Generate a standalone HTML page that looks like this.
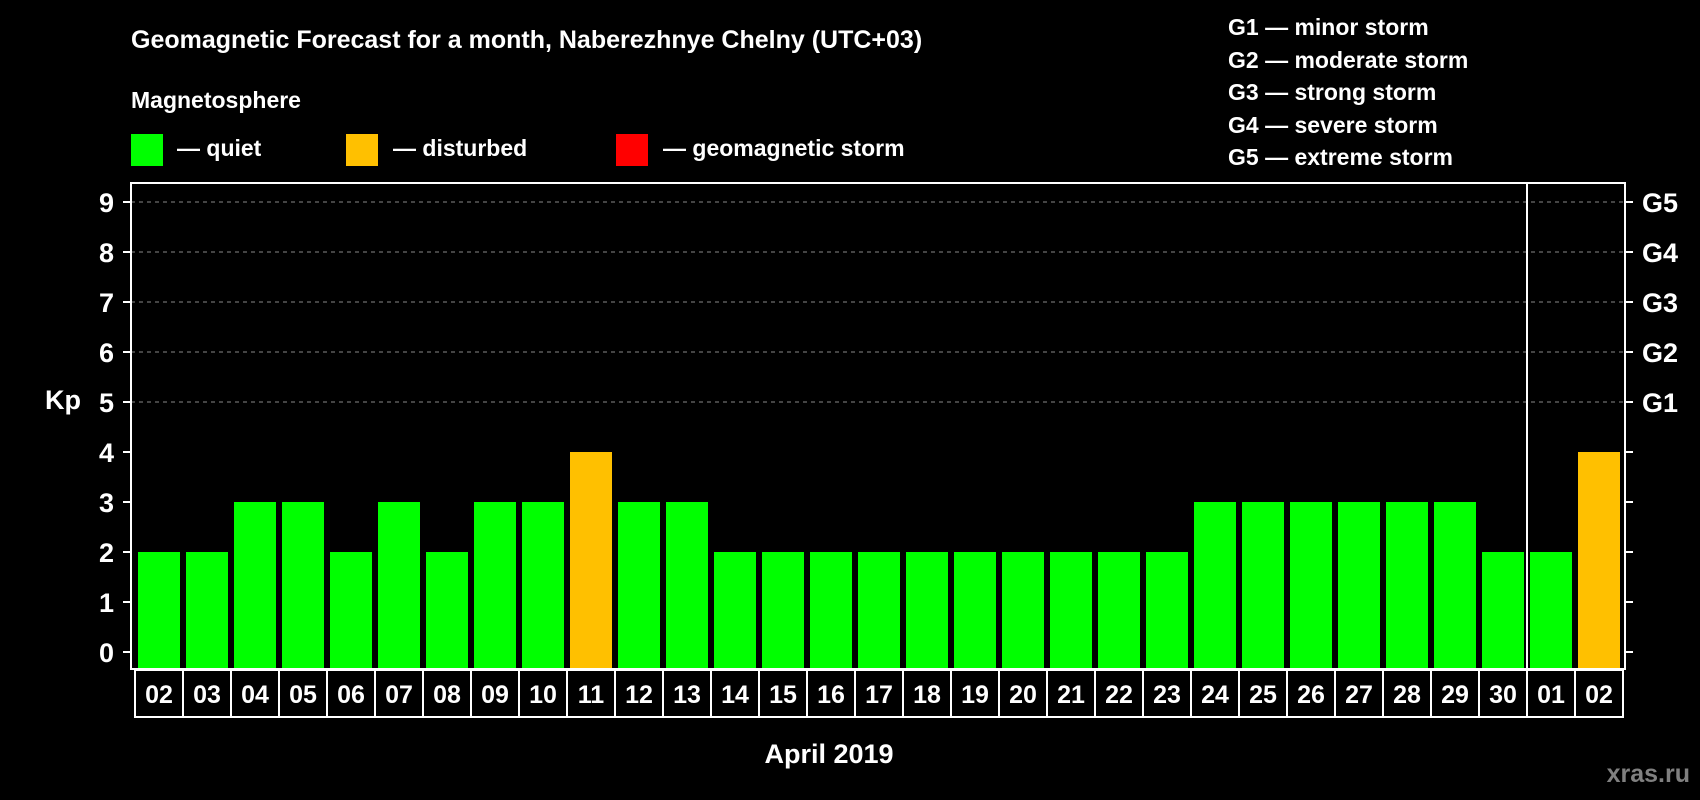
<!DOCTYPE html>
<html><head><meta charset="utf-8"><style>
html,body{margin:0;padding:0;background:#000;}
svg{display:block;font-family:"Liberation Sans",Arial,sans-serif;font-weight:bold;}
</style></head><body>
<svg id="chart" width="1700" height="800" viewBox="0 0 1700 800">
<text x="131" y="48" fill="#fff" font-size="25">Geomagnetic Forecast for a month, Naberezhnye Chelny (UTC+03)</text>
<text x="131" y="108" fill="#fff" font-size="23">Magnetosphere</text>
<rect x="131" y="134" width="32" height="32" fill="#00ff00"/>
<text x="177" y="156" fill="#fff" font-size="23">— quiet</text>
<rect x="346" y="134" width="32" height="32" fill="#ffc000"/>
<text x="393" y="156" fill="#fff" font-size="23">— disturbed</text>
<rect x="616" y="134" width="32" height="32" fill="#ff0000"/>
<text x="663" y="156" fill="#fff" font-size="23">— geomagnetic storm</text>
<g fill="#fff" font-size="23">
<text x="1228" y="35">G1 — minor storm</text>
<text x="1228" y="68">G2 — moderate storm</text>
<text x="1228" y="100">G3 — strong storm</text>
<text x="1228" y="133">G4 — severe storm</text>
<text x="1228" y="165">G5 — extreme storm</text>
</g>
<g id="grid"></g>
<g id="bars"></g>
<rect x="131" y="183" width="1494" height="486" fill="none" stroke="#fff" stroke-width="2"/>
<line x1="1527" y1="183" x2="1527" y2="669" stroke="#fff" stroke-width="2"/>
<g id="axes"></g>
<g id="xlabels"></g>
<text x="63" y="409" fill="#fff" font-size="27" text-anchor="middle">Kp</text>
<text x="829" y="763" fill="#fff" font-size="27" text-anchor="middle">April 2019</text>
<text x="1690" y="782" fill="#808080" font-size="25" text-anchor="end">xras.ru</text>
</svg>
<script>
const days = ["02","03","04","05","06","07","08","09","10","11","12","13","14","15","16","17","18","19","20","21","22","23","24","25","26","27","28","29","30","01","02"];
const kpValues = [2,2,3,3,2,3,2,3,3,4,3,3,2,2,2,2,2,2,2,2,2,2,3,3,3,3,3,3,2,2,4];
const yTicks = [0,1,2,3,4,5,6,7,8,9];
const gLabels = ["G1","G2","G3","G4","G5"];
const NS="http://www.w3.org/2000/svg";
const y = v => 652 - v*50;
const x = i => 138 + i*48;
function mk(tag, attrs, parent){const e=document.createElementNS(NS,tag);for(const k in attrs)e.setAttribute(k,attrs[k]);parent.appendChild(e);return e;}
const grid=document.getElementById('grid'),bars=document.getElementById('bars'),axes=document.getElementById('axes'),xl=document.getElementById('xlabels');
yTicks.forEach(v=>{
  if(v>=5){const l=mk('line',{x1:131,x2:1625,y1:y(v),y2:y(v),stroke:'#888','stroke-dasharray':'4,4','stroke-width':1},grid);
  
  }
  mk('line',{x1:123,x2:131,y1:y(v),y2:y(v),stroke:'#fff','stroke-width':2},axes);
  mk('line',{x1:1625,x2:1633,y1:y(v),y2:y(v),stroke:'#fff','stroke-width':2},axes);
  const t=mk('text',{x:114,y:y(v)+10,fill:'#fff','font-size':27,'text-anchor':'end'},axes);
  t.textContent=v;
  
  
});
gLabels.forEach((g,i)=>{
  const t=mk('text',{x:1642,y:y(5+i)+10,fill:'#fff','font-size':27},axes);
  t.textContent=g;
  
  
});
kpValues.forEach((v,i)=>{
  const color = v>=5?'#ff0000':(v>=4?'#ffc000':'#00ff00');
  const r=mk('rect',{x:x(i),y:y(v),width:42,height:y(0)-y(v)+17,fill:color},bars);
  
  
});
days.forEach((d,i)=>{
  const bx=135+i*48;
  const r=mk('rect',{x:bx,y:670,width:48,height:47,fill:'#000',stroke:'#fff','stroke-width':2},xl);
  
  
  const t=mk('text',{x:bx+24,y:703,fill:'#fff','font-size':25,'text-anchor':'middle'},xl);
  t.textContent=d;
  
  
});
</script>
</body></html>
